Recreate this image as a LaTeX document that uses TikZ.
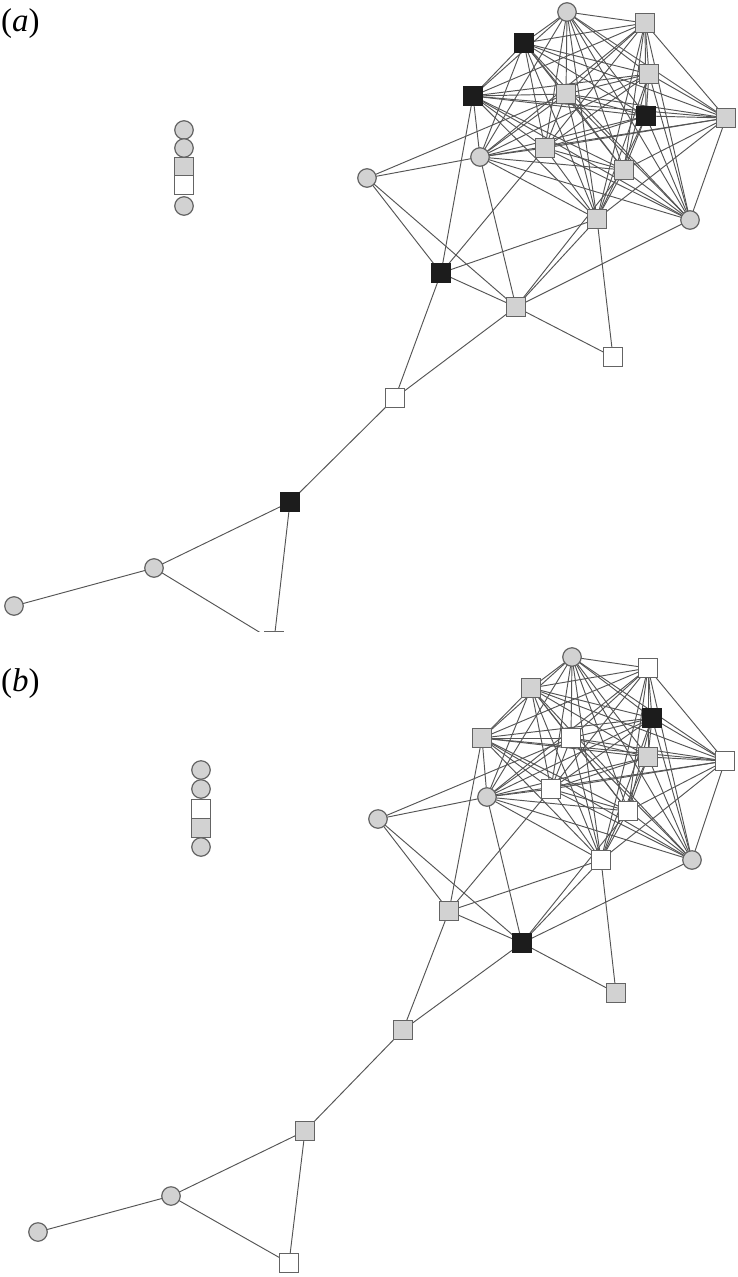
\documentclass[tikz,border=0pt]{standalone}
\usepackage{fontspec}
\setmainfont{Liberation Serif}
\usetikzlibrary{backgrounds}
\definecolor{nodegray}{RGB}{210,210,210}
\definecolor{nodeedge}{RGB}{100,100,100}
\definecolor{blk}{RGB}{28,28,28}
\definecolor{linkc}{RGB}{85,85,85}
\tikzset{
 base/.style={inner sep=0pt,outer sep=0pt,minimum size=18.5pt,line width=1.2pt,draw=nodeedge},
 gsq/.style={base,rectangle,fill=nodegray},
 bsq/.style={base,rectangle,fill=blk,draw=blk},
 wsq/.style={base,rectangle,fill=white},
 gci/.style={base,circle,fill=nodegray},
 link/.style={draw=linkc,line width=0.95pt},
 lbl/.style={inner sep=0pt,anchor=base west,font=\fontsize{33}{36}\selectfont},
}
\def\coreedges{1/2,1/3,1/4,1/5,1/6,1/7,1/8,1/9,1/10,1/11,1/13,1/14,
2/3,2/4,2/5,2/6,2/7,2/8,2/9,2/10,2/11,2/13,2/14,
3/4,3/5,3/6,3/7,3/8,3/9,3/10,3/11,3/13,3/14,
4/5,4/6,4/7,4/8,4/9,4/10,4/11,4/13,4/14,
5/6,5/7,5/8,5/9,5/10,5/11,5/13,5/14,
6/7,6/8,6/9,6/10,6/11,6/13,6/14,
7/8,7/9,7/10,7/11,7/13,7/14,
8/9,8/10,8/11,8/13,8/14,
9/10,9/11,9/13,9/14,
10/11,10/13,10/14,
11/13,11/14}
\def\outeredges{12/6,12/10,12/15,12/16,15/5,15/9,15/13,15/16,15/18,16/10,16/13,16/11,16/14,16/17,16/18,17/13,18/19,19/20,20/21}
\begin{document}
\begin{tikzpicture}[x=1pt,y=-1pt]
\useasboundingbox (0,0) rectangle (737,1277);
% labels
\node[lbl] (la) at (1,31) {(\textit{a})};
\node[lbl] (lb) at (1,691) {(\textit{b})};
% isolated stacks
\node[gci] (sa1) at (184,130) {};
\node[gci] (sa2) at (184,148) {};
\node[gsq] (sa3) at (184,167) {};
\node[wsq] (sa4) at (184,185) {};
\node[gci] (sa5) at (184,206) {};
\node[gci] (sb1) at (201,770) {};
\node[gci] (sb2) at (201,789) {};
\node[wsq] (sb3) at (201,809) {};
\node[gsq] (sb4) at (201,828) {};
\node[gci] (sb5) at (201,847) {};
% panel (a)
\node[gci] (a1) at (567,12) {};
\node[gsq] (a2) at (645,23) {};
\node[bsq] (a3) at (524,43) {};
\node[gsq] (a4) at (649,74) {};
\node[bsq] (a5) at (473,96) {};
\node[gsq] (a6) at (566,94) {};
\node[bsq] (a7) at (646,116) {};
\node[gsq] (a8) at (726,118) {};
\node[gsq] (a9) at (545,148) {};
\node[gci] (a10) at (480,157) {};
\node[gsq] (a11) at (624,170) {};
\node[gci] (a12) at (367,178) {};
\node[gsq] (a13) at (597,219) {};
\node[gci] (a14) at (690,220) {};
\node[bsq] (a15) at (441,273) {};
\node[gsq] (a16) at (516,307) {};
\node[wsq] (a17) at (613,357) {};
\node[wsq] (a18) at (395,398) {};
\node[bsq] (a19) at (290,502) {};
\node[gci] (a20) at (154,568) {};
\node[gci] (a21) at (14,606) {};
\begin{scope}
\clip (0,0) rectangle (737,631);
\node[wsq] (a22) at (274,641) {};
\end{scope}
% panel (b)
\node[gci] (b1) at (572,657) {};
\node[wsq] (b2) at (648,668) {};
\node[gsq] (b3) at (531,688) {};
\node[bsq] (b4) at (652,718) {};
\node[gsq] (b5) at (482,738) {};
\node[wsq] (b6) at (571,738) {};
\node[gsq] (b7) at (648,757) {};
\node[wsq] (b8) at (725,761) {};
\node[wsq] (b9) at (551,789) {};
\node[gci] (b10) at (487,797) {};
\node[wsq] (b11) at (628,811) {};
\node[gci] (b12) at (378,819) {};
\node[wsq] (b13) at (601,860) {};
\node[gci] (b14) at (692,860) {};
\node[gsq] (b15) at (449,911) {};
\node[bsq] (b16) at (522,943) {};
\node[gsq] (b17) at (616,993) {};
\node[gsq] (b18) at (403,1030) {};
\node[gsq] (b19) at (305,1131) {};
\node[gci] (b20) at (171,1196) {};
\node[gci] (b21) at (38,1232) {};
\node[wsq] (b22) at (289,1263) {};
% connectors
\begin{pgfonlayer}{background}
\foreach \p in {a,b}{
  \foreach \i/\j in \coreedges {\draw[link] (\p\i) -- (\p\j);}
  \foreach \i/\j in \outeredges {\draw[link] (\p\i) -- (\p\j);}
}
\draw[link] (b19) -- (b22);
\draw[link] (b20) -- (b22);
\begin{scope}
\clip (0,0) rectangle (737,631);
\draw[link] (a19) -- (a22);
\draw[link] (a20) -- (a22);
\end{scope}
\end{pgfonlayer}
\end{tikzpicture}
\end{document}
